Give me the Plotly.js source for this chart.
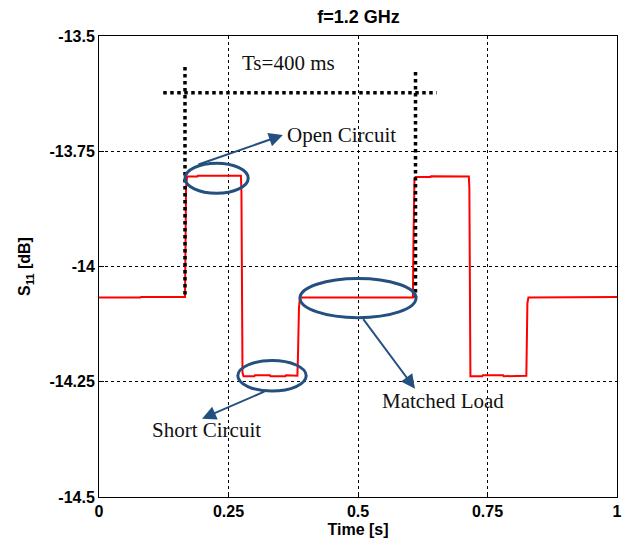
<!DOCTYPE html>
<html>
<head>
<meta charset="utf-8">
<script src="https://cdn.plot.ly/plotly-3.0.1.min.js"></script>
<style>html,body{margin:0;padding:0;background:#fff;}#chart{width:628px;height:540px;}</style>
</head>
<body>
<div id="chart"></div>
<script>
// Measured trace S11 (dB) vs time (s)
const time = [0, 0.02, 0.021, 0.045, 0.046, 0.08, 0.081, 0.166, 0.167, 0.168, 0.170, 0.19, 0.191, 0.215, 0.216, 0.245, 0.246, 0.274, 0.275, 0.277, 0.279,
  0.30, 0.301, 0.33, 0.331, 0.36, 0.361, 0.383, 0.384, 0.385, 0.386, 0.388,
  0.42, 0.421, 0.47, 0.471, 0.52, 0.521, 0.57, 0.571, 0.606, 0.607, 0.608, 0.609, 0.611,
  0.64, 0.641, 0.68, 0.681, 0.714, 0.715, 0.716, 0.717,
  0.74, 0.741, 0.78, 0.781, 0.825, 0.826, 0.827, 0.829,
  0.86, 0.861, 0.9, 0.901, 0.95, 0.951, 1.0];
const s11 = [-14.067, -14.067, -14.068, -14.068, -14.067, -14.067, -14.066, -14.066, -13.95, -13.83, -13.805, -13.805, -13.803, -13.803, -13.804, -13.804, -13.803, -13.803, -13.84, -14.23, -14.238,
  -14.238, -14.236, -14.236, -14.238, -14.238, -14.236, -14.237, -14.20, -14.13, -14.09, -14.067,
  -14.067, -14.066, -14.066, -14.067, -14.067, -14.066, -14.066, -14.067, -14.067, -13.95, -13.83, -13.81, -13.806,
  -13.806, -13.804, -13.804, -13.805, -13.805, -13.83, -14.20, -14.238,
  -14.238, -14.236, -14.236, -14.238, -14.237, -14.16, -14.08, -14.067,
  -14.067, -14.066, -14.066, -14.067, -14.067, -14.066, -14.066];

const xTicks = [0, 0.25, 0.5, 0.75, 1];
const xTickText = ["0", "0.25", "0.5", "0.75", "1"];
const yTicks = [-14.5, -14.25, -14, -13.75, -13.5];
const yTickText = ["-14.5", "-14.25", "-14", "-13.75", "-13.5"];

const blue = '#24507f';
const trace = {x: time, y: s11, mode: 'lines', line: {color: '#ff0000', width: 2}, hoverinfo: 'skip'};

const serif = {family: 'Liberation Serif, Times New Roman, serif', size: 21, color: '#111'};
const sans = 'Liberation Sans, Arial, sans-serif';

const layout = {
  width: 628, height: 540,
  margin: {l: 99, r: 11, t: 36, b: 43},
  paper_bgcolor: '#fff', plot_bgcolor: '#fff',
  showlegend: false,
  title: {text: '<b>f=1.2 GHz</b>', font: {family: sans, size: 18, color: '#000'},
          x: 0.571, xanchor: 'center', y: 0.97, yanchor: 'middle', yref: 'container'},
  xaxis: {range: [0, 1], tickvals: xTicks, ticktext: xTickText, showgrid: true, gridcolor: '#000', gridwidth: 1, griddash: '3px,3px',
          zeroline: false, showline: true, linecolor: '#000', linewidth: 1, mirror: true, ticks: 'inside', ticklen: 5, tickcolor: '#000',
          tickfont: {family: sans, size: 16, color: '#000', weight: 'bold'},
          title: {text: '<b>Time [s]</b>', font: {family: sans, size: 16, color: '#000'}, standoff: 4}},
  yaxis: {range: [-14.5, -13.5], tickvals: yTicks, ticktext: yTickText, showgrid: true, gridcolor: '#000', gridwidth: 1, griddash: '3px,3px',
          zeroline: false, showline: true, linecolor: '#000', linewidth: 1, mirror: true, ticks: 'inside', ticklen: 5, tickcolor: '#000',
          tickfont: {family: sans, size: 16, color: '#000', weight: 'bold'},
          title: {text: '<b>S<sub>11</sub> [dB]</b>', font: {family: sans, size: 16, color: '#000'}, standoff: 14}},
  shapes: [
    {type: 'line', xref: 'x', yref: 'y', x0: 0.166, x1: 0.166, y0: -13.567, y1: -14.067, line: {color: '#000', width: 3.5, dash: 'dot'}},
    {type: 'line', xref: 'x', yref: 'y', x0: 0.611, x1: 0.611, y0: -13.578, y1: -14.067, line: {color: '#000', width: 3.5, dash: 'dot'}},
    {type: 'line', xref: 'x', yref: 'y', x0: 0.124, x1: 0.652, y0: -13.623, y1: -13.623, line: {color: '#000', width: 3.5, dash: 'dot'}},
    {type: 'circle', xref: 'x', yref: 'y', x0: 0.166, x1: 0.288, y0: -13.776, y1: -13.841, line: {color: blue, width: 3}},
    {type: 'circle', xref: 'x', yref: 'y', x0: 0.268, x1: 0.400, y0: -14.204, y1: -14.270, line: {color: blue, width: 3}},
    {type: 'circle', xref: 'x', yref: 'y', x0: 0.388, x1: 0.612, y0: -14.026, y1: -14.111, line: {color: blue, width: 3}}
  ],
  annotations: [
    {xref: 'x', yref: 'y', x: 0.272, y: -13.559, text: 'Ts=400 ms', showarrow: false, xanchor: 'left', yanchor: 'middle', font: serif},
    {xref: 'x', yref: 'y', x: 0.359, y: -13.715, text: 'Open Circuit', showarrow: false, xanchor: 'left', yanchor: 'middle', font: serif},
    {xref: 'x', yref: 'y', x: 0.098, y: -14.354, text: 'Short Circuit', showarrow: false, xanchor: 'left', yanchor: 'middle', font: serif},
    {xref: 'x', yref: 'y', x: 0.542, y: -14.291, text: 'Matched Load', showarrow: false, xanchor: 'left', yanchor: 'middle', font: serif},
    {xref: 'x', yref: 'y', axref: 'x', ayref: 'y', x: 0.355, y: -13.715, ax: 0.189, ay: -13.780, text: '', showarrow: true,
     arrowhead: 2, arrowsize: 1.4, arrowwidth: 2, arrowcolor: blue},
    {xref: 'x', yref: 'y', axref: 'x', ayref: 'y', x: 0.199, y: -14.330, ax: 0.322, ay: -14.270, text: '', showarrow: true,
     arrowhead: 2, arrowsize: 1.4, arrowwidth: 2, arrowcolor: blue},
    {xref: 'x', yref: 'y', axref: 'x', ayref: 'y', x: 0.610, y: -14.265, ax: 0.508, ay: -14.111, text: '', showarrow: true,
     arrowhead: 2, arrowsize: 1.4, arrowwidth: 2, arrowcolor: blue}
  ]
};

Plotly.newPlot('chart', [trace], layout, {staticPlot: true, displayModeBar: false});
</script>
</body>
</html>
